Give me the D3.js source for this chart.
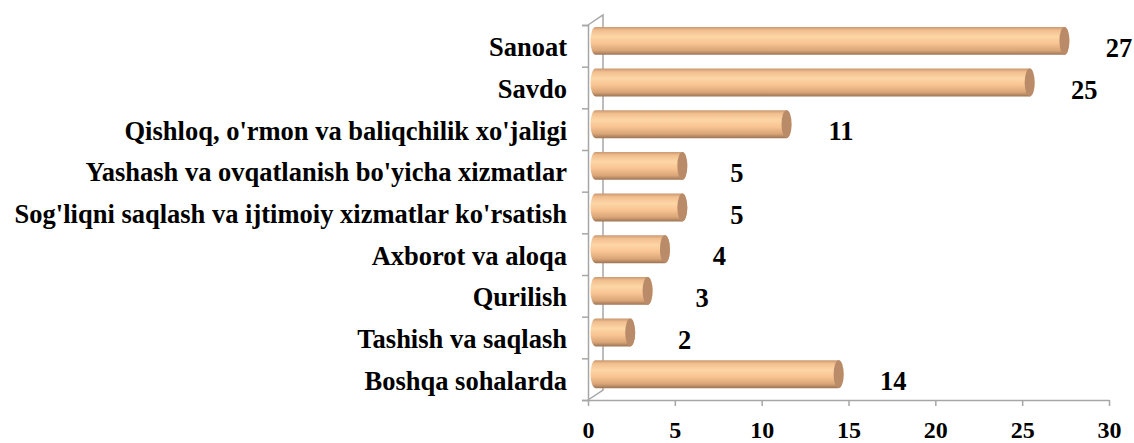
<!DOCTYPE html>
<html>
<head>
<meta charset="utf-8">
<script src="https://cdn.jsdelivr.net/npm/d3@7"></script>
<style>
  body { margin: 0; background: #fff; }
  text { font-family: "Liberation Serif", "Times New Roman", serif; font-weight: bold; fill: #000; }
</style>
</head>
<body>
<svg id="chart" width="1134" height="443"></svg>
<script>
// data (top to bottom)
var categories = [
  "Sanoat",
  "Savdo",
  "Qishloq, o'rmon va baliqchilik xo'jaligi",
  "Yashash va ovqatlanish bo'yicha xizmatlar",
  "Sog'liqni saqlash va ijtimoiy xizmatlar ko'rsatish",
  "Axborot va aloqa",
  "Qurilish",
  "Tashish va saqlash",
  "Boshqa sohalarda"
];
var values = [27, 25, 11, 5, 5, 4, 3, 2, 14];
var xTicks = [0, 5, 10, 15, 20, 25, 30];

var data = categories.map(function (c, i) { return {name: c, value: values[i]}; });

var svg = d3.select("#chart"),
    plotLeft = 588, plotRight = 1109, plotTop = 25, plotBottom = 400,
    depthX = 15, depthY = -10,   // 3d wall offset
    fontSize = "26.5px";

var x = d3.scaleLinear().domain([0, 30]).range([plotLeft, plotRight]);
var y = d3.scaleBand().domain(categories).range([plotTop, plotBottom]).paddingInner(0.33).paddingOuter(0.165);
var yIdx = d3.scaleLinear().domain([0, categories.length]).range([plotTop, plotBottom]);

var axisColor = "#a6a6a6";

// gradient for the cylinders
var defs = svg.append("defs");
var grad = defs.append("linearGradient")
    .attr("id", "cyl").attr("x1", 0).attr("y1", 0).attr("x2", 0).attr("y2", 1);
[[0, "#c8976f"], [0.12, "#f1be8e"], [0.35, "#fdd6a6"], [0.6, "#f8c391"], [0.85, "#d9a577"], [1, "#9c7455"]]
  .forEach(function (s) { grad.append("stop").attr("offset", s[0]).attr("stop-color", s[1]); });

// back wall / depth lines
var walls = svg.append("g").attr("stroke", axisColor).attr("stroke-width", 1.5).attr("fill", "none");
walls.append("path")
    .attr("d", "M" + plotLeft + "," + plotTop + "l" + depthX + "," + depthY +
               "V" + (plotBottom + depthY) + "L" + plotLeft + "," + plotBottom);

// left axis: tick marks on category boundaries
svg.append("g")
    .attr("transform", "translate(" + plotLeft + ",0)")
    .call(d3.axisLeft(yIdx).ticks(categories.length).tickSize(6).tickFormat(""))
    .call(function (g) {
      g.selectAll("line").attr("stroke", axisColor).attr("stroke-width", 1.5);
      g.select(".domain").attr("stroke", axisColor).attr("stroke-width", 1.5);
    });

// category labels
svg.append("g")
    .attr("transform", "translate(" + plotLeft + ",2)")
    .call(d3.axisLeft(y).tickSize(0).tickPadding(21))
    .call(function (g) {
      g.select(".domain").remove();
      g.selectAll("text").style("font-size", fontSize);
    });

// bottom axis
svg.append("g")
    .attr("transform", "translate(0," + plotBottom + ")")
    .call(d3.axisBottom(x).tickValues(xTicks).tickSize(6).tickPadding(14.5).tickSizeOuter(0))
    .call(function (g) {
      g.selectAll("line").attr("stroke", axisColor).attr("stroke-width", 1.5);
      g.select(".domain").attr("stroke", axisColor).attr("stroke-width", 1.5);
      g.selectAll("text").style("font-size", "24px");
    });

// cylinders
var dx = depthX / 2, dy = depthY / 2, rx = 5;
var bars = svg.append("g").selectAll("g.bar").data(data).enter()
    .append("g").attr("class", "bar");

bars.append("path")
    .attr("fill", "url(#cyl)")
    .attr("d", function (d) {
      var x0 = x(0) + dx, x1 = x(d.value) + dx,
          y0 = y(d.name) + dy, h = y.bandwidth(), ry = h / 2;
      return "M" + x0 + "," + y0 + "H" + x1 +
             "A" + rx + "," + ry + " 0 0 1 " + x1 + "," + (y0 + h) +
             "H" + x0 +
             "A" + rx + "," + ry + " 0 0 1 " + x0 + "," + y0 + "Z";
    });

bars.append("ellipse")
    .attr("cx", function (d) { return x(d.value) + dx; })
    .attr("cy", function (d) { return y(d.name) + dy + y.bandwidth() / 2; })
    .attr("rx", rx)
    .attr("ry", y.bandwidth() / 2)
    .attr("fill", "#b98b68");

// value labels
svg.append("g").selectAll("text").data(data).enter()
    .append("text")
    .attr("x", function (d) { return x(d.value) + 62; })
    .attr("y", function (d) { return y(d.name) + y.bandwidth() / 2 + 2; })
    .attr("dy", "0.35em")
    .attr("text-anchor", "middle")
    .style("font-size", fontSize)
    .text(function (d) { return d.value; });
</script>
</body>
</html>
